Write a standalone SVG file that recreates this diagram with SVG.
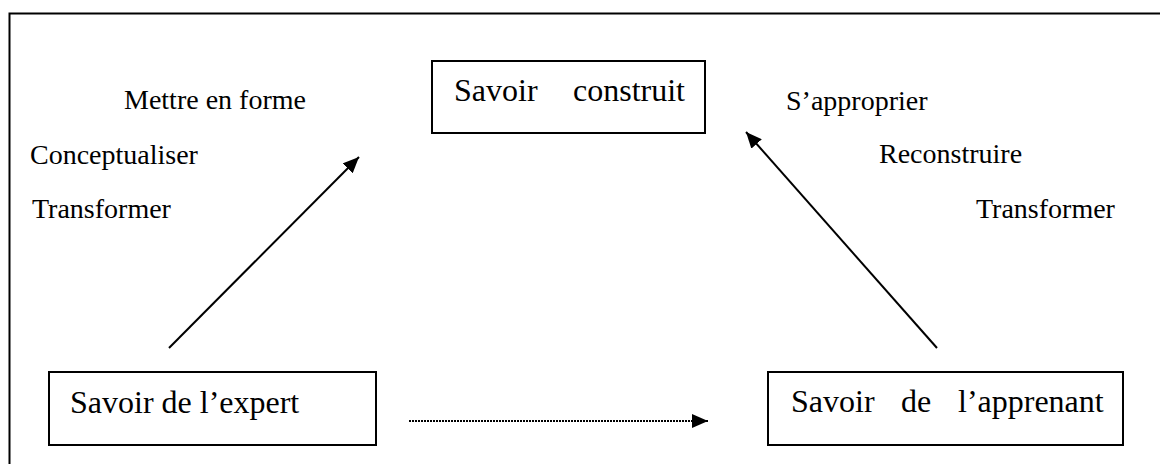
<svg xmlns="http://www.w3.org/2000/svg" width="1160" height="464" viewBox="0 0 1160 464">
<defs>
<style>
.box{fill:#fff;stroke:#000;stroke-width:2}
.ln{stroke:#000;stroke-width:2;fill:none}
</style>
<marker id="ah2" viewBox="0 0 16 14" refX="16" refY="7" markerWidth="16" markerHeight="14" markerUnits="userSpaceOnUse" orient="auto">
<path d="M0,0 L16,7 L0,14 Z" fill="#000"/>
</marker>
</defs>
<rect width="1160" height="464" fill="#fff"/>
<path d="M9.5,470 V13.5 H1165" fill="none" stroke="#000" stroke-width="2"/>
<g id="labels-left" font-family="'Liberation Serif', 'DejaVu Serif', serif" font-size="28" fill="#000">
<text x="124" y="109">Mettre en forme</text>
<text x="30" y="164">Conceptualiser</text>
<text x="32" y="218">Transformer</text>
</g>
<g id="labels-right" font-family="'Liberation Serif', 'DejaVu Serif', serif" font-size="28" fill="#000">
<text x="786" y="110">S’approprier</text>
<text x="879" y="163">Reconstruire</text>
<text x="976" y="218">Transformer</text>
</g>
<g id="connectors">
<line class="ln" x1="169" y1="348" x2="359" y2="157" marker-end="url(#ah2)"/>
<line class="ln" x1="937" y1="348" x2="746" y2="132" marker-end="url(#ah2)"/>
<line x1="409" y1="421" x2="708" y2="421" stroke="#000" stroke-width="2" stroke-dasharray="2,1" marker-end="url(#ah2)"/>
</g>
<g id="node-construit" font-family="'Liberation Serif', 'DejaVu Serif', serif" font-size="32" fill="#000">
<rect class="box" x="432" y="61" width="273" height="72"/>
<text x="454" y="101">Savoir</text>
<text x="573" y="101">construit</text>
</g>
<g id="node-expert" font-family="'Liberation Serif', 'DejaVu Serif', serif" font-size="32" fill="#000">
<rect class="box" x="49" y="372" width="327" height="73"/>
<text x="70" y="413">Savoir de l’expert</text>
</g>
<g id="node-apprenant" font-family="'Liberation Serif', 'DejaVu Serif', serif" font-size="32" fill="#000">
<rect class="box" x="768" y="372" width="355" height="73"/>
<text x="791" y="412">Savoir</text>
<text x="901" y="412">de</text>
<text x="958" y="412">l’apprenant</text>
</g>
</svg>
